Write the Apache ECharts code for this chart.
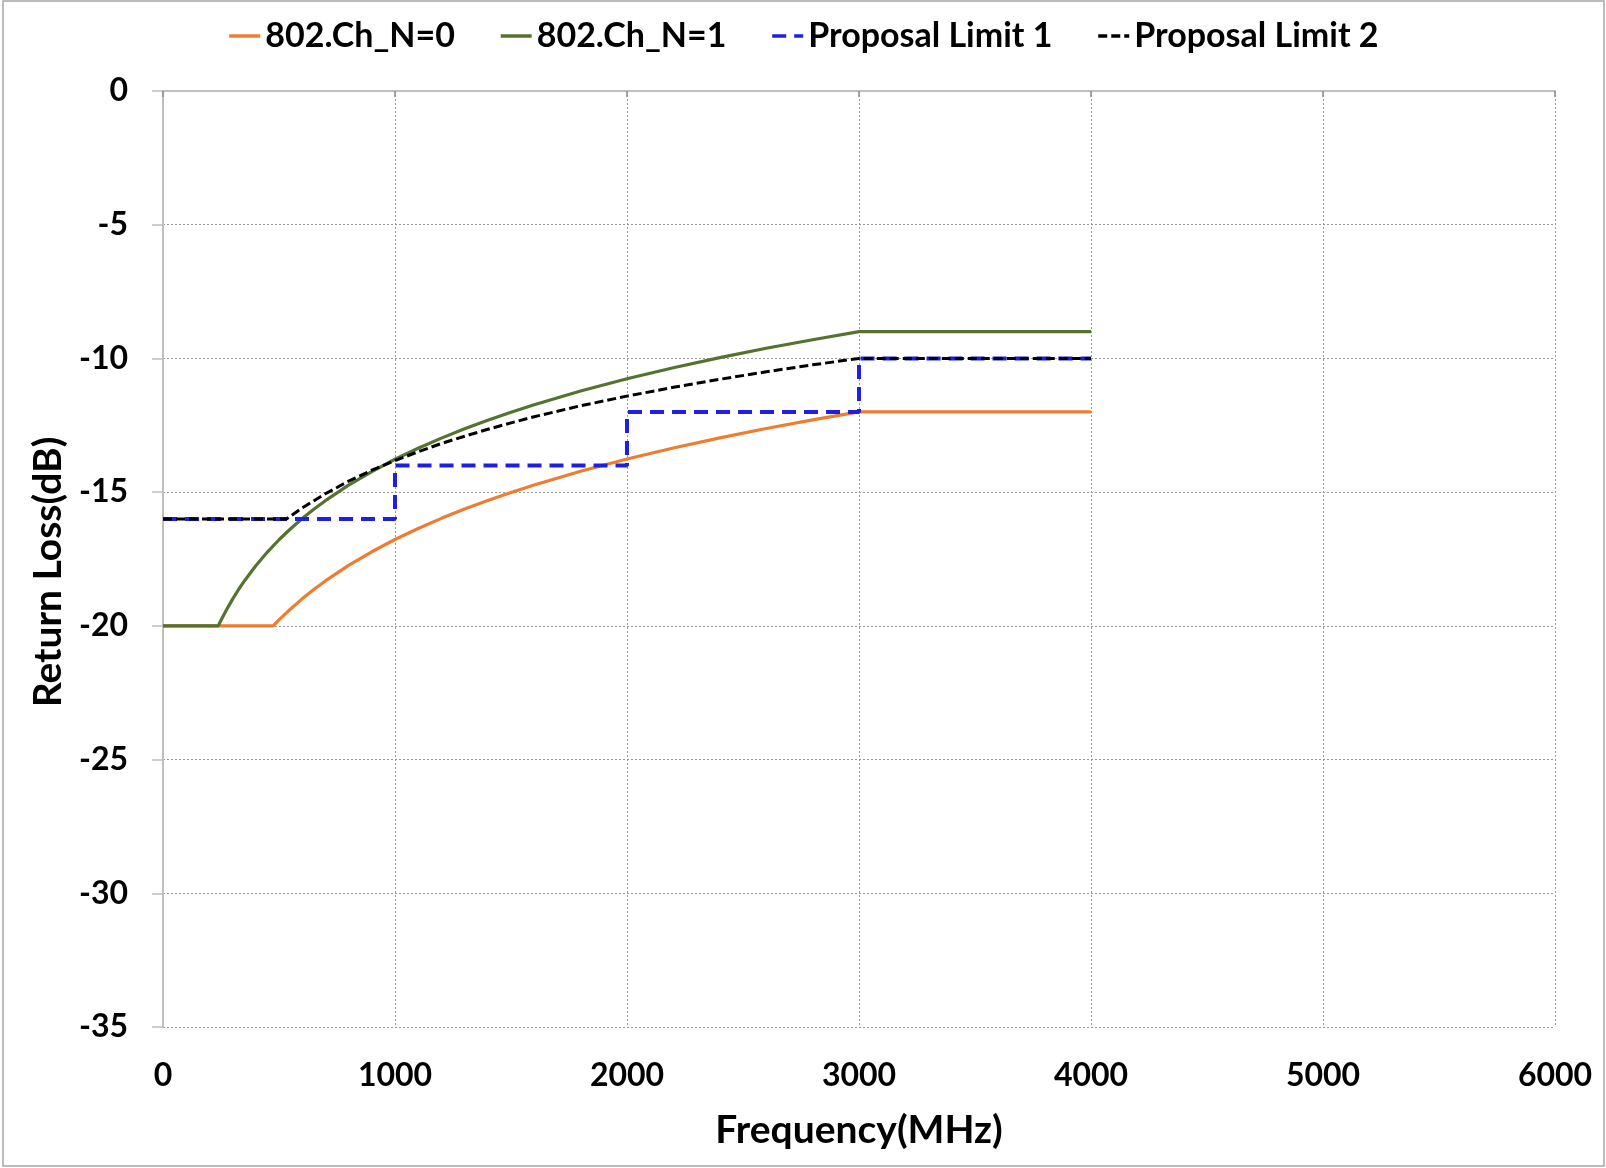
<!DOCTYPE html>
<html>
<head>
<meta charset="utf-8">
<script src="https://cdn.jsdelivr.net/npm/echarts@6/dist/echarts.min.js"></script>
<style>
  html, body { margin: 0; padding: 0; background: #fff; }
  #chart { width: 1606px; height: 1168px; }
</style>
</head>
<body>
<div id="chart"></div>
<script>
// series names (legend order)
const seriesNames = ['802.Ch_N=0', '802.Ch_N=1', 'Proposal Limit 1', 'Proposal Limit 2'];

// 802.Ch_N=0 (orange)
const freqN0 = [0, 475, 500, 525, 550, 600, 650, 700, 800, 900, 1000, 1100, 1200, 1300, 1400, 1500, 1600, 1800, 2000, 2200, 2400, 2600, 2800, 3000, 4000];
const rlN0 = [-20, -20, -19.78, -19.57, -19.37, -18.99, -18.64, -18.32, -17.74, -17.23, -16.77, -16.36, -15.98, -15.63, -15.31, -15.01, -14.73, -14.22, -13.76, -13.35, -12.97, -12.62, -12.3, -12, -12];

// 802.Ch_N=1 (green)
const freqN1 = [0, 238, 250, 275, 300, 325, 350, 400, 450, 500, 550, 600, 650, 700, 800, 900, 1000, 1100, 1200, 1300, 1400, 1500, 1600, 1800, 2000, 2200, 2400, 2600, 2800, 3000, 4000];
const rlN1 = [-20, -20, -19.79, -19.38, -19.0, -18.65, -18.33, -17.75, -17.24, -16.78, -16.37, -15.99, -15.64, -15.32, -14.74, -14.23, -13.77, -13.36, -12.98, -12.63, -12.31, -12.01, -11.73, -11.22, -10.76, -10.35, -9.97, -9.62, -9.3, -9, -9];

// Proposal Limit 1 (blue step)
const freqLim1 = [0, 1000, 1000, 2000, 2000, 3000, 3000, 4000];
const rlLim1 = [-16, -16, -14, -14, -12, -12, -10, -10];

// Proposal Limit 2 (black dashed)
const freqLim2 = [0, 533, 600, 700, 800, 900, 1000, 1100, 1200, 1300, 1400, 1500, 1600, 1800, 2000, 2200, 2400, 2600, 2800, 3000, 4000];
const rlLim2 = [-16, -16, -15.59, -15.06, -14.59, -14.18, -13.82, -13.49, -13.18, -12.91, -12.65, -12.41, -12.18, -11.77, -11.41, -11.08, -10.78, -10.5, -10.24, -10, -10];

// axis ranges
const xMin = 0, xMax = 6000, xStep = 1000;
const yMin = -35, yMax = 0, yStep = 5;

function zip(xs, ys) {
    return xs.map((x, i) => [x, ys[i]]);
}

const FONT = 'Lato';
const chart = echarts.init(document.getElementById('chart'), null, { renderer: 'canvas' });

const gridLine = { show: true, lineStyle: { color: '#999', type: [2, 2], width: 1 } };

function lineSeries(name, xs, ys, color, width, dash) {
    return {
        name: name,
        type: 'line',
        xAxisIndex: 0,
        showSymbol: false,
        symbol: 'none',
        data: zip(xs, ys),
        lineStyle: { color: color, width: width, type: dash || 'solid' },
        itemStyle: { color: color }
    };
}

chart.setOption({
    animation: false,
    backgroundColor: '#fff',
    textStyle: { fontFamily: FONT },
    graphic: [{
        type: 'rect',
        shape: { x: 3, y: 1, width: 1601, height: 1165 },
        style: { fill: 'none', stroke: '#a6a6a6', lineWidth: 1.5 },
        silent: true
    }],
    legend: {
        top: 14,
        left: 'center',
        itemWidth: 31,
        itemHeight: 14,
        itemGap: 44,
        data: seriesNames,
        itemStyle: { opacity: 0 },
        lineStyle: { width: 3.5 },
        textStyle: { fontFamily: FONT, fontWeight: 'bold', fontSize: 34, color: '#000' }
    },
    grid: { left: 163, right: 51, top: 91, bottom: 141 },
    xAxis: [{
        type: 'value',
        position: 'bottom',
        min: xMin, max: xMax, interval: xStep,
        name: 'Frequency(MHz)',
        nameLocation: 'middle',
        nameGap: 84,
        nameTextStyle: { fontFamily: FONT, fontWeight: 'bold', fontSize: 39, color: '#000' },
        axisLine: { show: false },
        axisTick: { show: false },
        axisLabel: { margin: 33, fontFamily: FONT, fontWeight: 'bold', fontSize: 32, color: '#000', formatter: v => String(v) },
        splitLine: gridLine
    }, {
        type: 'value',
        position: 'top',
        min: xMin, max: xMax, interval: xStep,
        axisLine: { show: true, onZero: false, lineStyle: { color: '#bfbfbf', width: 2 } },
        axisTick: { show: true, inside: true, length: 6, lineStyle: { color: '#8c8c8c', width: 1.5 } },
        axisLabel: { show: false },
        splitLine: { show: false }
    }],
    yAxis: {
        type: 'value',
        min: yMin, max: yMax, interval: yStep,
        name: 'Return Loss(dB)',
        nameLocation: 'middle',
        nameGap: 92,
        nameTextStyle: { fontFamily: FONT, fontWeight: 'bold', fontSize: 39, color: '#000', padding: [0, 26, 0, 0] },
        axisLine: { show: true, onZero: false, lineStyle: { color: '#bfbfbf', width: 2 } },
        axisTick: { show: true, length: 11, lineStyle: { color: '#bfbfbf', width: 1.5 } },
        axisLabel: { margin: 35, fontFamily: FONT, fontWeight: 'bold', fontSize: 32, color: '#000' },
        splitLine: gridLine
    },
    series: [
        lineSeries(seriesNames[0], freqN0, rlN0, '#ED7D31', 3.2),
        lineSeries(seriesNames[1], freqN1, rlN1, '#56722F', 3.2),
        lineSeries(seriesNames[2], freqLim1, rlLim1, '#1F1FE0', 4, [14, 8]),
        lineSeries(seriesNames[3], freqLim2, rlLim2, '#000', 3, [9, 4])
    ]
});
</script>
</body>
</html>
